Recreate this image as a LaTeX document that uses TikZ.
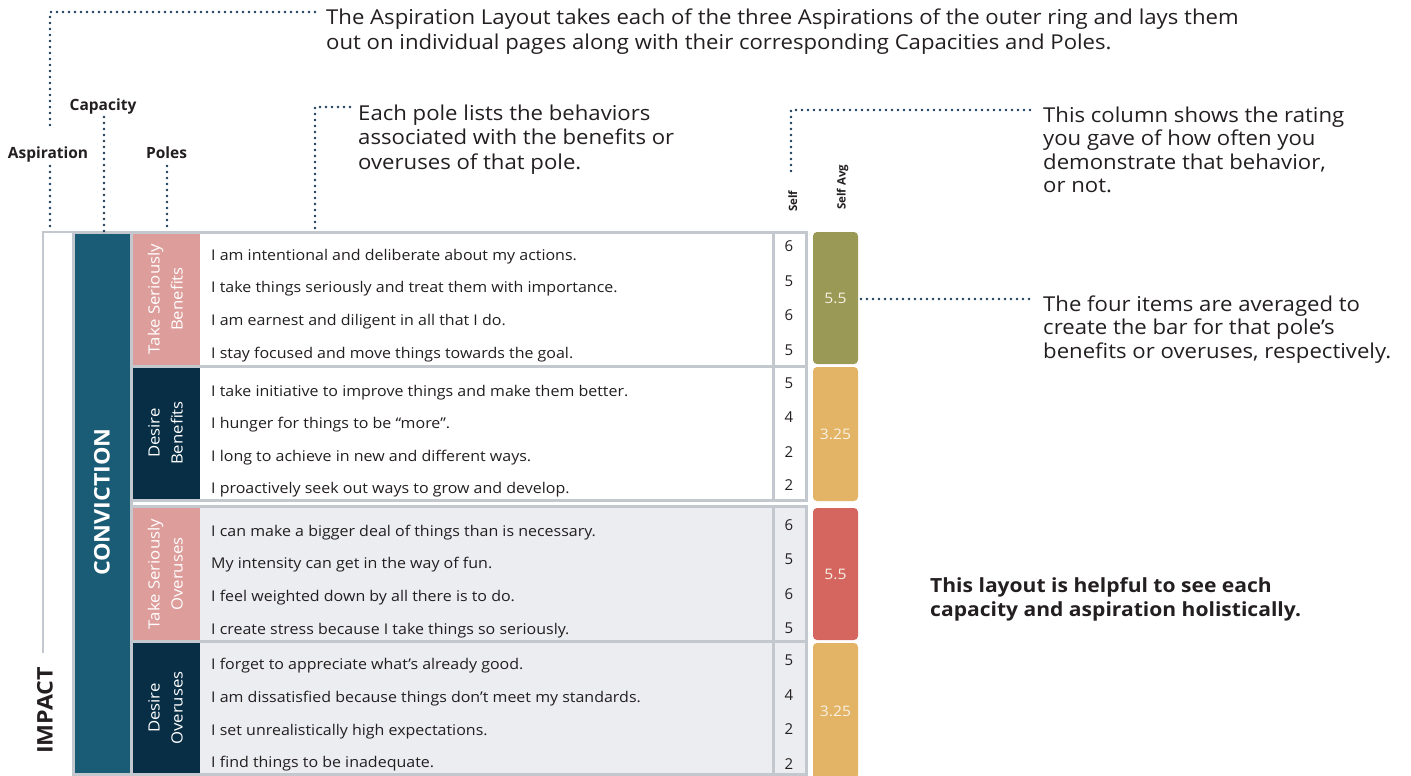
\documentclass[tikz,border=0pt]{standalone}
\usepackage{fontspec}
\setmainfont{Open Sans}[FakeStretch=1.08]
\newfontfamily\labfont{Open Sans}
\definecolor{txt}{HTML}{231F20}
\definecolor{gridc}{HTML}{C2C8CD}
\definecolor{capteal}{HTML}{1A5C75}
\definecolor{polenavy}{HTML}{072E45}
\definecolor{polepink}{HTML}{DD9D9B}
\definecolor{barolive}{HTML}{9A9955}
\definecolor{barmustard}{HTML}{E3B465}
\definecolor{barcoral}{HTML}{D4665F}
\definecolor{lgray}{HTML}{ECEDF0}
\definecolor{dotc}{HTML}{1C3A56}
\definecolor{barnum}{HTML}{F8F1E4}
\newcommand\fsz[2]{\fontsize{#1}{#2}\selectfont}
\newcommand\linesL[1]{\begin{tabular}[t]{@{}l@{}}#1\end{tabular}}
\newcommand\linesC[1]{\begin{tabular}{@{}c@{}}#1\end{tabular}}
\begin{document}
\begin{tikzpicture}[x=1pt,y=-1pt,
  rowtxt/.style={anchor=base west,inner sep=0pt,font=\fsz{14.8}{17},text=txt},
  numtxt/.style={anchor=center,inner sep=0pt,font=\labfont\fsz{15}{17},text=txt},
  note/.style={anchor=base west,inner sep=0pt,font=\fsz{20.5}{24},text=txt},
  lab/.style={anchor=base,inner sep=0pt,font=\labfont\bfseries\fsz{15.5}{18},text=txt},
  hdr/.style={anchor=base west,inner sep=0pt,rotate=90,font=\labfont\bfseries\fsz{11.5}{14},text=txt},
  poletxt/.style={anchor=center,inner sep=0pt,rotate=90,font=\fsz{15.5}{23},text=white},
  bigtxt/.style={anchor=center,inner sep=0pt,rotate=90,font=\bfseries\fsz{21.5}{24}},
  bar/.style={rectangle,rounded corners=4pt,inner sep=0pt,minimum width=45pt,text=barnum,font=\fsz{14.5}{17}},
  frameln/.style={draw=gridc,line width=3pt},
  dots/.style={draw=dotc,line width=2.6pt,line cap=round,dash pattern=on 0pt off 6pt}
]
\useasboundingbox (0,0) rectangle (1411,776);

% ---------- outer frame ----------
\draw[draw=gridc,line width=2pt] (43,653) -- (43,232) -- (806,232);
\node[bigtxt,text=txt] (impact) at (45,710.5) {IMPACT};

% capacity column
\fill[capteal] (73,232) rectangle (131,776);
\draw[frameln] (73.5,232) rectangle (131,774.5);
\node[bigtxt,text=white] (conv) at (102,502) {CONVICTION};

% ---------- blocks ----------
% B1
\fill[white] (131,232) rectangle (806,366.5);
\fill[polepink] (131,232) rectangle (200,366.5);
\draw[frameln] (131,232) rectangle (806,366.5);
\draw[frameln] (773,232) -- (773,366.5);
% B2
\fill[white] (131,366.5) rectangle (806,500);
\fill[polenavy] (131,366.5) rectangle (200,500);
\draw[frameln] (131,366.5) rectangle (806,500);
\draw[frameln] (773,366.5) -- (773,500);
% B3
\fill[lgray] (131,506) rectangle (806,641.5);
\fill[polepink] (131,506) rectangle (200,641.5);
\draw[frameln] (131,506) rectangle (806,641.5);
\draw[frameln] (773,506) -- (773,641.5);
% B4
\fill[lgray] (131,641.5) rectangle (806,774.5);
\fill[polenavy] (131,641.5) rectangle (200,774.5);
\draw[frameln] (131,641.5) rectangle (806,774.5);
\draw[frameln] (773,641.5) -- (773,774.5);

% pole labels
\node[poletxt] (p1) at (166.5,299) {\linesC{Take Seriously\\Benefits}};
\node[poletxt] (p2) at (166.5,433) {\linesC{Desire\\Benefits}};
\node[poletxt] (p3) at (166.5,574) {\linesC{Take Seriously\\Overuses}};
\node[poletxt] (p4) at (166.5,708) {\linesC{Desire\\Overuses}};

% rows B1
\node[rowtxt] (r11) at (211,260) {I am intentional and deliberate about my actions.};
\node[rowtxt] (r12) at (211,292.7) {I take things seriously and treat them with importance.};
\node[rowtxt] (r13) at (211,325.4) {I am earnest and diligent in all that I do.};
\node[rowtxt] (r14) at (211,358) {I stay focused and move things towards the goal.};
% rows B2
\node[rowtxt] (r21) at (211,396) {I take initiative to improve things and make them better.};
\node[rowtxt] (r22) at (211,428.5) {I hunger for things to be “more”.};
\node[rowtxt] (r23) at (211,461) {I long to achieve in new and different ways.};
\node[rowtxt] (r24) at (211,493.5) {I proactively seek out ways to grow and develop.};
% rows B3
\node[rowtxt] (r31) at (211,536) {I can make a bigger deal of things than is necessary.};
\node[rowtxt] (r32) at (211,568.5) {My intensity can get in the way of fun.};
\node[rowtxt] (r33) at (211,601) {I feel weighted down by all there is to do.};
\node[rowtxt] (r34) at (211,634) {I create stress because I take things so seriously.};
% rows B4
\node[rowtxt] (r41) at (211,669) {I forget to appreciate what’s already good.};
\node[rowtxt] (r42) at (211,702) {I am dissatisfied because things don’t meet my standards.};
\node[rowtxt] (r43) at (211,735) {I set unrealistically high expectations.};
\node[rowtxt] (r44) at (211,767.5) {I find things to be inadequate.};

% self numbers
\node[numtxt] (n11) at (789,246.5) {6};
\node[numtxt] (n12) at (789,281) {5};
\node[numtxt] (n13) at (789,315.5) {6};
\node[numtxt] (n14) at (789,350) {5};
\node[numtxt] (n21) at (789,383) {5};
\node[numtxt] (n22) at (789,417.5) {4};
\node[numtxt] (n23) at (789,452) {2};
\node[numtxt] (n24) at (789,485.5) {2};
\node[numtxt] (n31) at (789,525) {6};
\node[numtxt] (n32) at (789,559.5) {5};
\node[numtxt] (n33) at (789,594) {6};
\node[numtxt] (n34) at (789,628) {5};
\node[numtxt] (n41) at (789,660) {5};
\node[numtxt] (n42) at (789,695) {4};
\node[numtxt] (n43) at (789,729) {2};
\node[numtxt] (n44) at (789,764) {2};

% average bars
\node[bar,fill=barolive,minimum height=132pt] (a1) at (835.5,298) {5.5};
\node[bar,fill=barmustard,minimum height=134pt] (a2) at (835.5,434) {3.25};
\node[bar,fill=barcoral,minimum height=132pt] (a3) at (835.5,574) {5.5};
\node[bar,fill=barmustard,minimum height=136pt] (a4) at (835.5,711) {3.25};

% column headers
\node[hdr] (hself) at (797,212) {Self};
\node[hdr] (havg) at (845.5,210) {Self Avg};

% ---------- labels ----------
\node[lab] (asp) at (48,158.3) {Aspiration};
\node[lab] (cap) at (103,110.7) {Capacity};
\node[lab] (pol) at (166.5,158.3) {Poles};

% ---------- notes ----------
\node[note,font=\fsz{20.5}{25}] (ntop) at (326,25) {\linesL{The Aspiration Layout takes each of the three Aspirations of the outer ring and lays them\\out on individual pages along with their corresponding Capacities and Poles.}};
\node[note] (npole) at (358,121) {\linesL{Each pole lists the behaviors\\associated with the benefits or\\overuses of that pole.}};
\node[note,font=\fsz{20.5}{23.5}] (nself) at (1043,122) {\linesL{This column shows the rating\\you gave of how often you\\demonstrate that behavior,\\or not.}};
\node[note,font=\fsz{20.5}{23.5}] (navg) at (1043,311) {\linesL{The four items are averaged to\\create the bar for that pole’s\\benefits or overuses, respectively.}};
\node[note,font=\bfseries\fsz{19.5}{24}] (nholi) at (930,592) {\linesL{This layout is helpful to see each\\capacity and aspiration holistically.}};

% ---------- dotted connectors ----------
\coordinate (ctopEnd) at (315,12);
\coordinate (ctopCorner) at (50,12);
\coordinate (caspUp) at (50,128);
\coordinate (caspLo) at (50,166);
\coordinate (caspBot) at (50,231);
\coordinate (ccapLo) at (104,117);
\coordinate (ccapBot) at (104,231);
\coordinate (cpolLo) at (167,166);
\coordinate (cpolBot) at (167,231);
\coordinate (cnpEnd) at (350,107);
\coordinate (cnpCorner) at (315,107);
\coordinate (cnpBot) at (315,231);
\coordinate (cnsEnd) at (1030,110);
\coordinate (cnsCorner) at (791,110);
\coordinate (cnsBot) at (791,172);
\coordinate (cnaStart) at (861,299);
\coordinate (cnaEnd) at (1030,299);

\draw[dots] (ctopEnd) -- (ctopCorner) -- (caspUp);
\draw[dots] (caspLo) -- (caspBot);
\draw[dots] (ccapLo) -- (ccapBot);
\draw[dots] (cpolLo) -- (cpolBot);
\draw[dots] (cnpEnd) -- (cnpCorner) -- (cnpBot);
\draw[dots] (cnsEnd) -- (cnsCorner) -- (cnsBot);
\draw[dots] (cnaStart) -- (cnaEnd);
\end{tikzpicture}
\end{document}
